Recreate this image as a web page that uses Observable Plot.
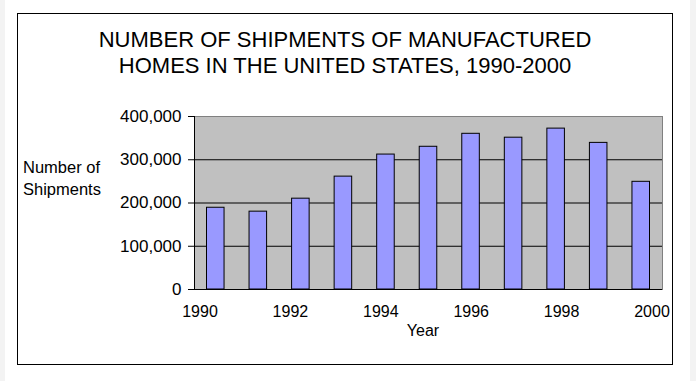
<!DOCTYPE html>
<html><head><meta charset="utf-8">
<script src="https://cdn.jsdelivr.net/npm/d3@7"></script>
<script src="https://cdn.jsdelivr.net/npm/@observablehq/plot@0.6"></script>
<style>
html,body{margin:0;padding:0;background:#f3f3f3;}
#page{position:relative;width:696px;height:381px;overflow:hidden;font-family:"Liberation Sans",Arial,sans-serif;color:#000;}
#white{position:absolute;left:5px;top:0;width:685px;height:381px;background:#fff;}
#box{position:absolute;left:17px;top:13px;width:656px;height:352px;border:1px solid #000;box-sizing:border-box;}
#title{position:absolute;left:17px;width:656px;top:27px;text-align:center;font-size:22px;line-height:26px;}
#ylab{position:absolute;left:23px;top:156px;font-size:16.5px;line-height:22px;}
#xlab{position:absolute;left:373px;width:100px;top:322px;text-align:center;font-size:16px;line-height:18px;}
.plot{position:absolute;left:0;top:0;}
.plot svg{overflow:visible;}
</style>
</head><body>
<div id="page">
  <div id="white"></div>
  <div id="box"></div>
  <div id="title">NUMBER OF SHIPMENTS OF MANUFACTURED<br>HOMES IN THE UNITED STATES, 1990-2000</div>
  <div id="ylab">Number of<br>Shipments</div>
  <div id="xlab">Year</div>
  <div id="main" class="plot"></div>
  <div id="xaxis" class="plot"></div>
</div>
<script>
const years = [1990, 1991, 1992, 1993, 1994, 1995, 1996, 1997, 1998, 1999, 2000];
const shipments = [189000, 180000, 210000, 261000, 312000, 330000, 360000, 351000, 372000, 339000, 249000];
const yTicks = [0, 100000, 200000, 300000, 400000];
const xTickLabels = [1990, 1992, 1994, 1996, 1998, 2000];

const data = years.map((y, i) => ({year: y, value: shipments[i]}));
const font = '"Liberation Sans", Arial, sans-serif';

const main = Plot.plot({
  width: 696,
  height: 381,
  marginLeft: 194,
  marginRight: 34,
  marginTop: 116,
  marginBottom: 92,
  style: {background: "transparent", fontFamily: font, fontSize: "17px", color: "#000"},
  x: {type: "linear", domain: [1990, 2001], axis: null},
  y: {domain: [0, 400000], ticks: yTicks, tickFormat: d3.format(","), label: null},
  marks: [
    Plot.frame({fill: "#c0c0c0", stroke: "#808080"}),
    Plot.ruleY(yTicks.slice(1, -1), {stroke: "#000", strokeWidth: 1}),
    Plot.rectY(data, {x: "year", y: "value", interval: 1, insetLeft: 12.5, insetRight: 12.5, fill: "#9999ff", stroke: "#000", strokeWidth: 1}),
    Plot.ruleY([0], {stroke: "#000"}),
    Plot.ruleX([1990], {stroke: "#000"}),
    Plot.axisY({ticks: yTicks, tickFormat: d3.format(","), tickSize: 6, tickPadding: 7, label: null, fontSize: 17})
  ]
});
document.getElementById("main").appendChild(main);

const xaxis = Plot.plot({
  width: 696,
  height: 381,
  marginTop: 289,
  marginBottom: 92,
  style: {background: "transparent", fontFamily: font, fontSize: "16px", color: "#000"},
  x: {type: "linear", domain: [1990, 2000], range: [199.5, 651.5]},
  y: {axis: null},
  marks: [
    Plot.axisX({ticks: xTickLabels, tickFormat: d => String(d), tickSize: 0, tickPadding: 16, label: null, fontSize: 16})
  ]
});
document.getElementById("xaxis").appendChild(xaxis);
</script>
</body></html>
